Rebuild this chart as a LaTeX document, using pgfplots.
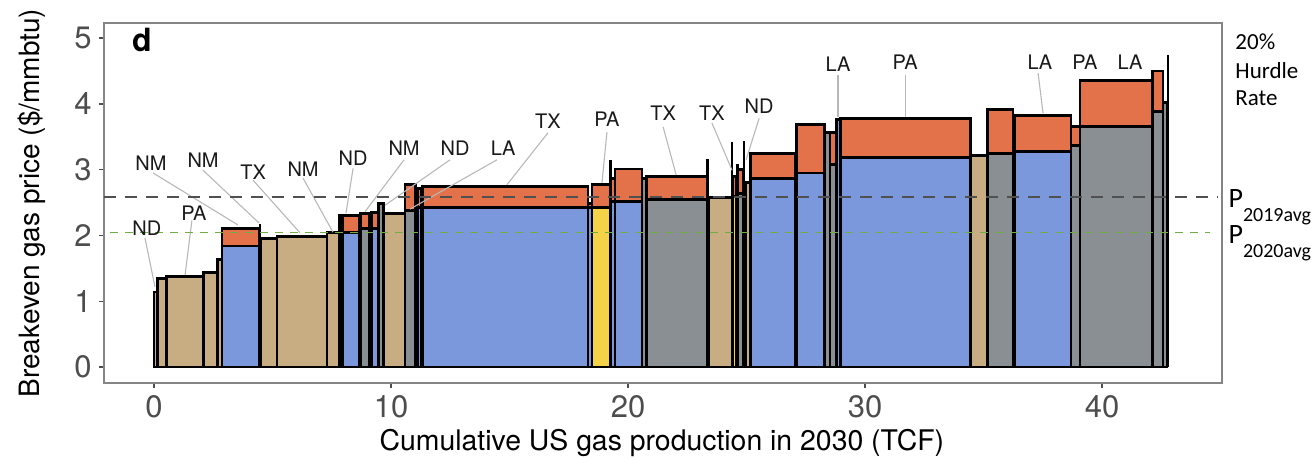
\documentclass[border=0pt]{standalone}
\usepackage{pgfplots}
\pgfplotsset{compat=1.18}
\usepackage{fontspec}
\setmainfont{TeX Gyre Heros}
\newfontfamily\calib{Carlito}
\definecolor{tanc}{HTML}{C9AD82}
\definecolor{bluc}{HTML}{7B98DD}
\definecolor{gryc}{HTML}{8A8F94}
\definecolor{yelc}{HTML}{F4D348}
\definecolor{orgc}{HTML}{E3714A}
\definecolor{grnc}{HTML}{70AD47}
\definecolor{dashg}{HTML}{505050}
\definecolor{leadc}{HTML}{B8B8B8}
\definecolor{tickc}{HTML}{4D4D4D}
\definecolor{framec}{HTML}{858585}
% bar with hurdle (orange) part: x0 x1 base total colour
\newcommand{\brk}[5]{%
  \addplot[draw=black,line width=1.45pt,line join=miter,fill=orgc] coordinates {(#1,0) (#1,#4) (#2,#4) (#2,0)} -- cycle;
  \addplot[draw=black,line width=1.45pt,line join=miter,fill=#5] coordinates {(#1,0) (#1,#3) (#2,#3) (#2,0)} -- cycle;}
% simple bar: x0 x1 height colour
\newcommand{\brs}[4]{%
  \addplot[draw=black,line width=1.45pt,line join=miter,fill=#4] coordinates {(#1,0) (#1,#3) (#2,#3) (#2,0)} -- cycle;}
% thin vertical bar: x height
\newcommand{\lin}[2]{%
  \addplot[black,line width=1.2pt] coordinates {(#1,0) (#1,#2)};}
% leader line
\newcommand{\led}[4]{%
  \addplot[leadc,line width=0.55pt] coordinates {(#1,#2) (#3,#4)};}
\newcommand{\lab}[3]{\node[font=\fontsize{10}{10}\selectfont,text=black!90] at (axis cs:#1,#2) {#3};}
\begin{document}
\begin{tikzpicture}
\path[use as bounding box] (-52pt,-37.5pt) rectangle (605pt,191.5pt);
\begin{axis}[
  scale only axis, width=559pt, height=180pt,
  xmin=-2.11, xmax=45.06, ymin=-0.243, ymax=5.23,
  xtick={0,10,20,30,40}, ytick={0,1,2,3,4,5},
  tick pos=left, tick align=outside, major tick length=2.6pt,
  every tick/.style={tickc, line width=0.7pt},
  axis line style={framec, line width=0.7pt},
  /pgf/number format/assume math mode=true,
  ticklabel style={font=\fontsize{15.5}{15.5}\selectfont, text=tickc},
  xlabel={Cumulative US gas production in 2030 (TCF)},
  ylabel={Breakeven gas price (\$/mmbtu)},
  every axis x label/.style={at={(axis description cs:0.499,-0.1667)},anchor=center,font=\fontsize{14.2}{14.2}\selectfont},
  every axis y label/.style={at={(axis description cs:-0.0644,0.5)},anchor=center,rotate=90,font=\fontsize{14}{14}\selectfont},
  clip=false,
]
\brs{0.00}{0.13}{1.14}{tanc}
\brs{0.13}{0.51}{1.34}{tanc}
\brs{0.51}{2.07}{1.37}{tanc}
\brs{2.07}{2.66}{1.43}{tanc}
\brs{2.66}{2.87}{1.64}{tanc}
\brk{2.87}{4.43}{1.84}{2.11}{bluc}
\lin{4.46}{2.17}
\brs{4.49}{5.19}{1.96}{tanc}
\brs{5.19}{7.30}{1.99}{tanc}
\brs{7.30}{7.81}{2.04}{tanc}
\brk{7.81}{7.97}{2.04}{2.31}{bluc}
\brk{7.97}{8.65}{2.04}{2.31}{bluc}
\brk{8.73}{9.11}{2.10}{2.34}{gryc}
\brk{9.16}{9.45}{2.11}{2.35}{bluc}
\brs{9.49}{9.70}{2.49}{gryc}
\brs{9.70}{10.59}{2.33}{tanc}
\brk{10.59}{11.05}{2.38}{2.77}{gryc}
\brk{11.10}{11.27}{2.42}{2.72}{bluc}
\brk{11.31}{18.31}{2.42}{2.74}{bluc}
\brk{18.31}{18.48}{2.43}{2.49}{bluc}
\brk{18.48}{19.24}{2.43}{2.78}{yelc}
\brk{19.28}{19.45}{2.51}{2.86}{bluc}
\brk{19.45}{20.59}{2.51}{3.01}{bluc}
\brs{20.59}{20.76}{2.87}{gryc}
\brk{20.76}{23.33}{2.55}{2.89}{gryc}
\brs{23.38}{24.39}{2.58}{tanc}
\brk{24.39}{24.56}{2.60}{2.89}{yelc}
\brk{24.60}{24.85}{2.64}{3.00}{gryc}
\brs{24.94}{25.15}{2.80}{tanc}
\brk{25.15}{27.05}{2.87}{3.24}{bluc}
\brk{27.09}{28.27}{2.95}{3.68}{bluc}
\brs{28.27}{28.52}{3.57}{gryc}
\brk{28.52}{28.78}{3.08}{3.56}{gryc}
\brs{28.78}{28.95}{3.76}{bluc}
\brk{28.95}{34.43}{3.18}{3.78}{bluc}
\brs{34.43}{35.15}{3.22}{tanc}
\brk{35.15}{36.24}{3.24}{3.92}{gryc}
\brk{36.30}{38.69}{3.27}{3.83}{bluc}
\brk{38.69}{39.07}{3.37}{3.66}{gryc}
\brk{39.07}{42.11}{3.65}{4.36}{gryc}
\brk{42.11}{42.57}{3.88}{4.50}{gryc}
\brs{42.57}{42.74}{4.02}{gryc}
\lin{19.26}{3.15}
\lin{23.36}{3.16}
\lin{24.39}{3.42}
\lin{24.62}{3.08}
\lin{24.90}{3.43}
\lin{42.77}{4.74}
% leader lines
\led{-0.38}{1.96}{0.04}{1.22}
\led{1.60}{2.23}{1.31}{1.40}
\led{-0.04}{2.95}{3.54}{2.16}
\led{2.07}{2.99}{4.43}{2.19}
\led{4.18}{2.84}{6.16}{2.04}
\led{6.29}{2.87}{7.55}{2.05}
\led{8.40}{3.02}{8.10}{2.34}
\led{10.55}{3.15}{8.90}{2.36}
\led{12.49}{3.15}{9.75}{2.46}
\led{14.47}{3.15}{10.80}{2.40}
\led{16.62}{3.56}{14.89}{2.77}
\led{19.11}{3.57}{18.90}{2.80}
\led{21.48}{3.65}{22.03}{2.92}
\led{23.54}{3.71}{24.39}{2.99}
\led{25.53}{3.78}{24.98}{3.15}
\led{28.86}{4.44}{28.86}{3.80}
\led{31.69}{4.44}{31.69}{3.80}
\led{37.30}{4.47}{37.51}{3.86}
% reference prices
\addplot[dashg,line width=1.3pt,dash pattern=on 6pt off 4.5pt] coordinates {(-2.11,2.585) (44.9,2.585)};
\addplot[grnc,line width=0.9pt,dash pattern=on 4pt off 3.5pt] coordinates {(-1.86,2.045) (44.56,2.045)};
% state labels
\lab{-0.30}{2.11}{ND}
\lab{1.68}{2.34}{PA}
\lab{-0.13}{3.10}{NM}
\lab{2.07}{3.15}{NM}
\lab{4.18}{2.96}{TX}
\lab{6.29}{3.00}{NM}
\lab{8.40}{3.18}{ND}
\lab{10.55}{3.33}{NM}
\lab{12.70}{3.33}{ND}
\lab{14.73}{3.33}{LA}
\lab{16.62}{3.74}{TX}
\lab{19.11}{3.76}{PA}
\lab{21.48}{3.86}{TX}
\lab{23.54}{3.86}{TX}
\lab{25.53}{3.96}{ND}
\lab{28.86}{4.60}{LA}
\lab{31.69}{4.63}{PA}
\lab{37.38}{4.63}{LA}
\lab{39.28}{4.63}{PA}
\lab{41.18}{4.63}{LA}
\node[font=\fontsize{16}{16}\selectfont\bfseries] at (axis description cs:0.034,0.953) {d};
\node[anchor=west,inner sep=0pt,font=\calib\fontsize{11.5}{11.5}\selectfont] at (axis cs:45.61,4.94) {20\%};
\node[anchor=west,inner sep=0pt,font=\calib\fontsize{11.5}{11.5}\selectfont] at (axis cs:45.61,4.51) {Hurdle};
\node[anchor=west,inner sep=0pt,font=\calib\fontsize{11.5}{11.5}\selectfont] at (axis cs:45.61,4.09) {Rate};
\node[anchor=base west,inner sep=0pt] at (axis cs:45.32,2.43) {\calib\fontsize{14}{14}\selectfont P\raisebox{-7pt}{\fontsize{10}{10}\selectfont 2019avg}};
\node[anchor=base west,inner sep=0pt] at (axis cs:45.32,1.88) {\calib\fontsize{14}{14}\selectfont P\raisebox{-7pt}{\fontsize{10}{10}\selectfont 2020avg}};
\end{axis}
\end{tikzpicture}
\end{document}
